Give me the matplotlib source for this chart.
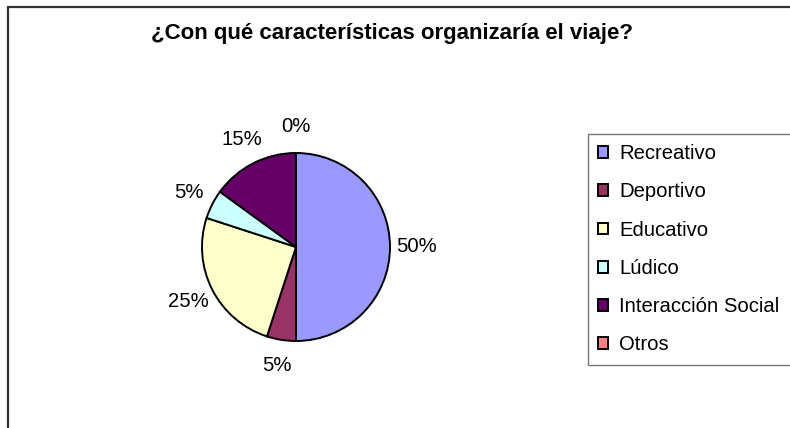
import matplotlib
matplotlib.use("Agg")
import matplotlib.pyplot as plt
from matplotlib.patches import Rectangle

categories = ["Recreativo", "Deportivo", "Educativo", "Lúdico", "Interacción Social", "Otros"]
values = [50, 5, 25, 5, 15, 0]
colors = ["#9999FF", "#993366", "#FFFFCC", "#CCFFFF", "#660066", "#FF8080"]
title = "¿Con qué características organizaría el viaje?"

plt.rcParams['font.family'] = ['Liberation Sans', 'DejaVu Sans']

W, H = 790, 428
fig = plt.figure(figsize=(W / 100, H / 100), dpi=100)

# outer chart frame (only left/top visible)
fig.patches.append(Rectangle((8 / W, -0.2), 1.2, 0.2 + (H - 7) / H,
                             transform=fig.transFigure, fill=False,
                             ec="#333333", lw=1.6, zorder=0))

cx, cy, r = 296, 247, 94
ax = fig.add_axes([(cx - r) / W, (H - cy - r) / H, 2 * r / W, 2 * r / H])
wedges, texts, autotexts = ax.pie(
    values, colors=colors, startangle=90, counterclock=False,
    autopct=lambda p: f"{p:.0f}%", pctdistance=1.28,
    wedgeprops=dict(edgecolor="black", linewidth=1.4),
    textprops=dict(fontsize=14.6, color="black"))
ax.set_xlim(-1, 1)
ax.set_ylim(-1, 1)
ax.set_aspect("equal")
ax.axis("off")

fig.text(392 / W, 1 - 33 / H, title, ha="center", va="center",
         fontsize=16, fontweight="bold")

leg = fig.legend(wedges, categories, loc="upper left",
                 bbox_to_anchor=(588 / W, 1 - 134 / H, 260 / W, 0),
                 mode="expand", fontsize=14.6, frameon=True, fancybox=False,
                 edgecolor="#555555", handlelength=0.5, handleheight=0.5,
                 handletextpad=0.55, labelspacing=0.95, borderpad=0.5,
                 borderaxespad=0)
leg.get_frame().set_linewidth(1.0)

fig.savefig("out.png", dpi=100)
